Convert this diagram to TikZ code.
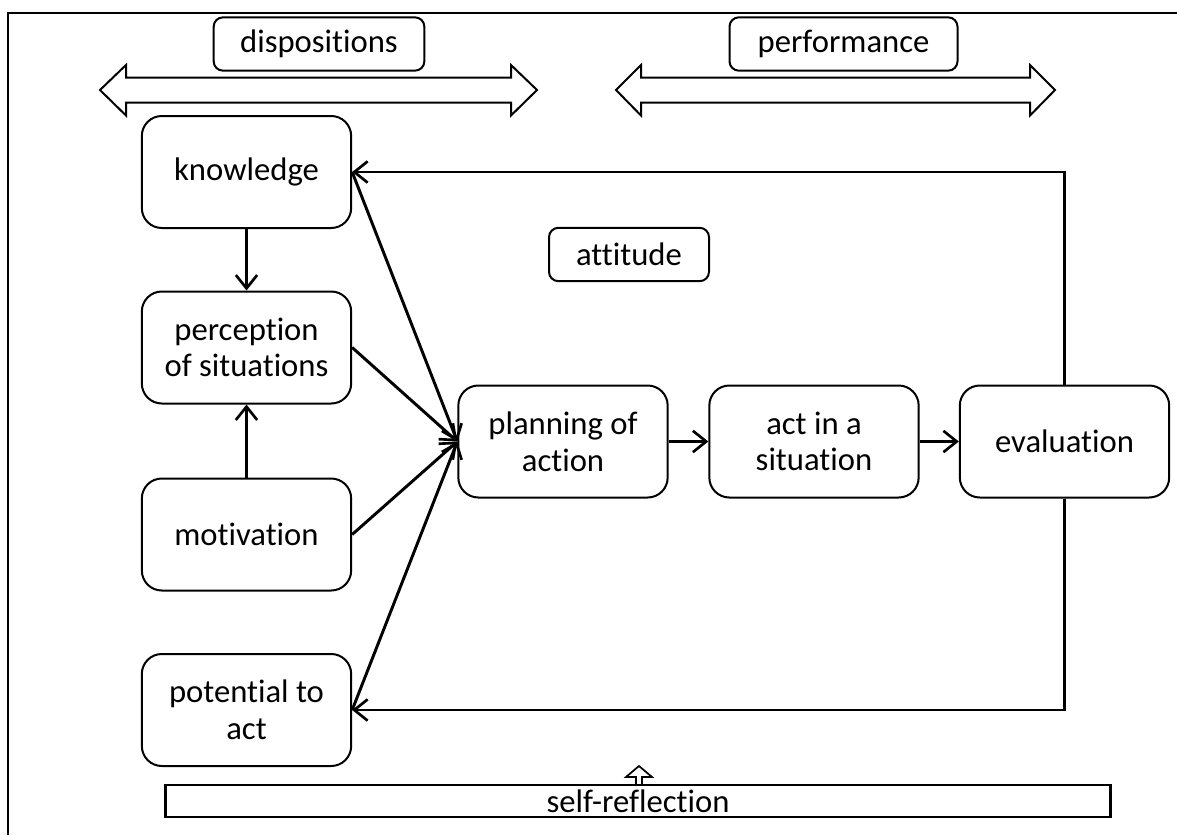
\documentclass[tikz,border=0pt]{standalone}
\usepackage{fontspec}
\setmainfont{Carlito}[Ligatures=NoCommon]
\usetikzlibrary{arrows.meta}
\begin{document}
\begin{tikzpicture}[x=0.75pt,y=-0.75pt,
  txt/.style={font=\fontsize{24.5}{27.5}\selectfont},
  box/.style={txt, draw, line width=1.5pt, rounded corners=15pt,
    minimum width=157pt, minimum height=84pt, align=center, inner sep=0pt},
  tag/.style={txt, draw, line width=1.5pt, rounded corners=7pt,
    minimum height=40pt, inner sep=0pt},
  link/.style={line width=2.2pt, -{Straight Barb[length=10pt,width=16pt,line width=2pt]}},
  feed/.style={line width=2pt, -{Straight Barb[length=10pt,width=16pt,line width=2pt]}},
  hollow/.style={draw, line width=1.5pt, line join=miter, fill=white},
]
\useasboundingbox (0,0) rectangle (1177,835);

% outer frame
\draw[line width=1.6pt] (8,835) -- (8,13) -- (1177,13);

% top labels with double block arrows
\draw[hollow] (100,90) -- (126,65) -- (126,77.5) -- (511,77.5) -- (511,65)
  -- (537,90) -- (511,115.5) -- (511,102.5) -- (126,102.5) -- (126,115.5) -- cycle;
\draw[hollow] (616,90) -- (641,65) -- (641,77.5) -- (1030,77.5) -- (1030,65)
  -- (1055,90) -- (1030,115.5) -- (1030,102.5) -- (641,102.5) -- (641,115.5) -- cycle;
\node[tag, minimum width=158pt] (disp) at (319,44) {dispositions};
\node[tag, minimum width=171pt] (perf) at (843.5,44) {performance};
\node[tag, minimum width=120pt] (att) at (629,254.5) {attitude};

% disposition boxes
\node[box] (know) at (246.5,172) {knowledge};
\node[box] (perc) at (246.5,347.5) {perception\\of situations};
\node[box] (moti) at (246.5,534.5) {motivation};
\node[box] (pote) at (246.5,710) {potential to\\act};

% performance boxes
\node[box] (plan) at (563,441.5) {planning of\\action};
\node[box] (actn) at (814,441.5) {act in a\\situation};
\node[box] (eval) at (1064.5,441.5) {evaluation};

% self-reflection bar
\node[txt, draw, line width=1.8pt, minimum width=709pt, minimum height=24pt,
  inner sep=0pt] (self) at (638,801) {self-reflection};
\draw[hollow, line width=1.3pt] (self.north -| 636,0) -- (636,777) -- (626,777)
  -- (639,766) -- (652,777) -- (642,777) -- (self.north -| 642,0);

% connectors
\draw[link] (know) -- (perc);
\draw[link] (moti) -- (perc);
\draw[link] (know.east) -- (plan.west);
\draw[link] (perc.east) -- (plan.west);
\draw[link] (moti.east) -- (plan.west);
\draw[link] (pote.east) -- (plan.west);
\draw[link] (plan) -- (actn);
\draw[link] (actn) -- (eval);
\draw[feed] (eval.north) |- (know.east);
\draw[feed] (eval.south) |- (pote.east);
\end{tikzpicture}
\end{document}
